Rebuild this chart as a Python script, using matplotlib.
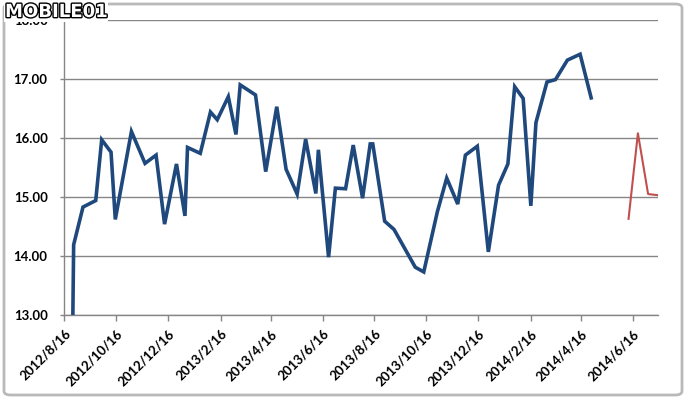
import matplotlib
matplotlib.use("Agg")
import matplotlib.pyplot as plt
import matplotlib.patheffects as pe
from matplotlib.patches import FancyBboxPatch
import pandas as pd

# ---- data ----
blue_dates = ["2012-08-16", "2012-08-27", "2012-09-07", "2012-09-22", "2012-09-29",
              "2012-10-10", "2012-10-15", "2012-11-03", "2012-11-19", "2012-12-02",
              "2012-12-12", "2012-12-26", "2013-01-05", "2013-01-08", "2013-01-23",
              "2013-02-04", "2013-02-12", "2013-02-25", "2013-03-06", "2013-03-11",
              "2013-03-29", "2013-04-10", "2013-04-23", "2013-05-04", "2013-05-17",
              "2013-05-27", "2013-06-08", "2013-06-11", "2013-06-23", "2013-07-01",
              "2013-07-13", "2013-07-22", "2013-08-02", "2013-08-11", "2013-08-14",
              "2013-08-28", "2013-09-08", "2013-10-03", "2013-10-13", "2013-10-29",
              "2013-11-09", "2013-11-22", "2013-12-01", "2013-12-15", "2013-12-28",
              "2014-01-09", "2014-01-20", "2014-01-28", "2014-02-07", "2014-02-16",
              "2014-02-22", "2014-03-07", "2014-03-17", "2014-03-31", "2014-04-15",
              "2014-04-28"]
blue_values = [0.00, 14.19, 14.83, 14.94, 15.97,
               15.76, 14.62, 16.11, 15.57, 15.71,
               14.54, 15.56, 14.68, 15.84, 15.74,
               16.44, 16.31, 16.70, 16.06, 16.90,
               16.73, 15.43, 16.53, 15.47, 15.05,
               15.98, 15.06, 15.80, 13.98, 15.15,
               15.14, 15.88, 14.98, 15.90, 15.90,
               14.59, 14.45, 13.81, 13.73, 14.75,
               15.32, 14.88, 15.71, 15.86, 14.07,
               15.20, 15.56, 16.87, 16.67, 14.85,
               16.26, 16.95, 16.99, 17.32, 17.42,
               16.68]
red_dates = ["2014-06-11", "2014-06-22", "2014-07-04", "2014-07-16"]
red_values = [14.63, 16.08, 15.05, 15.03]

x_tick_dates = ["2012-08-16", "2012-10-16", "2012-12-16", "2013-02-16", "2013-04-16",
                "2013-06-16", "2013-08-16", "2013-10-16", "2013-12-16", "2014-02-16",
                "2014-04-16", "2014-06-16"]
x_tick_labels = ["2012/8/16", "2012/10/16", "2012/12/16", "2013/2/16", "2013/4/16",
                 "2013/6/16", "2013/8/16", "2013/10/16", "2013/12/16", "2014/2/16",
                 "2014/4/16", "2014/6/16"]
y_ticks = [13, 14, 15, 16, 17, 18]
x_min, x_max = "2012-08-16", "2014-07-16"

# ---- figure ----
W, H = 687, 398
fig = plt.figure(figsize=(W / 100, H / 100), dpi=100)
fig.patch.set_facecolor("white")

# window frame
frame = FancyBboxPatch((4 / W, 3 / H), (W - 9) / W, (H - 7) / H,
                       boxstyle="round,pad=0,rounding_size=0.01",
                       transform=fig.transFigure, facecolor="none",
                       edgecolor="#b9b9b9", linewidth=2.0)
fig.patches.append(frame)

ax = fig.add_axes([64.3 / W, 1 - 315 / H, (658.3 - 64.3) / W, (315 - 20) / H])
ax.set_facecolor("white")

bd = pd.to_datetime(blue_dates)
rd = pd.to_datetime(red_dates)
ax.plot(bd, blue_values, color="#1F497D", lw=2.6, solid_joinstyle="miter", zorder=3)
ax.plot(rd, red_values, color="#C0504D", lw=1.5, zorder=3)

ax.set_xlim(pd.Timestamp(x_min), pd.Timestamp(x_max))
ax.set_ylim(13, 18)

ax.set_yticks(y_ticks)
ax.set_yticklabels([f"{v:.2f}" for v in y_ticks], fontsize=9.5, fontweight="bold",
                   family="Lato")
ax.yaxis.grid(True, color="#868686", lw=1.0)
ax.set_axisbelow(True)

ax.set_xticks(pd.to_datetime(x_tick_dates))
ax.set_xticklabels(x_tick_labels, rotation=45, ha="right", va="top",
                   rotation_mode="anchor", fontsize=9.5, fontweight="bold", family="Lato")

for s in ["top", "right"]:
    ax.spines[s].set_visible(False)
for s in ["left", "bottom"]:
    ax.spines[s].set_color("#868686")
    ax.spines[s].set_linewidth(1.0)

ax.tick_params(axis="y", length=3, width=1, color="#868686", pad=9)
ax.tick_params(axis="x", length=4, width=1, color="#868686", pad=5)

# watermark logo (sits over the top of the chart, as in the screenshot)
fig.text(5 / W, 1 - 12 / H, "MOBILE01", fontsize=13, fontweight="bold",
         color="white", family="DejaVu Sans", va="center", ha="left", zorder=10,
         path_effects=[pe.withStroke(linewidth=2, foreground="black")],
         bbox=dict(facecolor="white", edgecolor="none", pad=0.5))

fig.savefig("out.png", dpi=100)
